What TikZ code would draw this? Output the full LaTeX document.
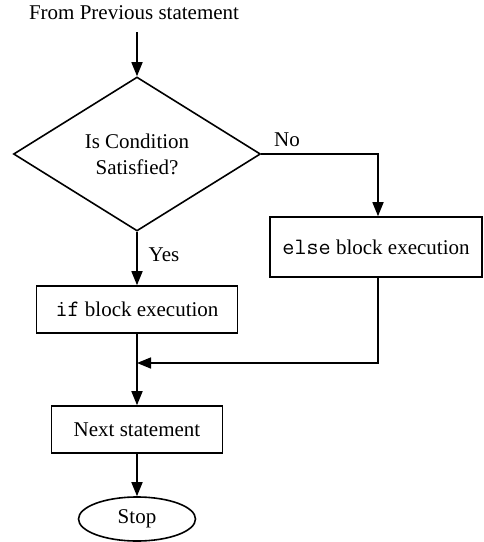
\documentclass[tikz,border=0pt]{standalone}
\usepackage{fontspec}
\setmainfont{Liberation Serif}
\usetikzlibrary{shapes.geometric,arrows.meta}
\newcommand\kwcode[1]{{\fontsize{23.5}{26}\selectfont\texttt{#1}}}
\begin{document}
\begin{tikzpicture}[x=1pt,y=-1pt,
  every node/.style={font=\fontsize{21}{26}\selectfont},
  line/.style={line width=1.6pt},
  arr/.style={line width=1.6pt, -{Triangle[length=14pt,width=11pt]}},
  box/.style={draw, line width=1.6pt, rectangle, inner sep=0pt},
  decision/.style={draw, diamond, aspect=1.6, line width=1.6pt, minimum width=247pt, minimum height=154pt, inner sep=0pt, align=center},
  stopnode/.style={draw, ellipse, line width=1.6pt, minimum width=117pt, minimum height=44pt, inner sep=0pt}]
\useasboundingbox (0,0) rectangle (483,542);
\node (title) at (134,13) {From Previous statement};
\coordinate (start) at (137,32);
\node[decision] (cond) at (137,154) {Is Condition\\Satisfied?};
\node[box, minimum width=212pt, minimum height=60pt] (else) at (376,247) {\kwcode{else} block execution};
\node[box, minimum width=201pt, minimum height=47pt] (if) at (137,309.5) {\kwcode{if} block execution};
\coordinate (merge) at (137,363);
\node[box, minimum width=171pt, minimum height=47pt] (next) at (137,429.5) {Next statement};
\node[stopnode] (stop) at (137,519) {Stop};
\node (no) at (287,140) {No};
\node (yes) at (164,255) {Yes};
\draw[arr] (start) -- (cond.north);
\draw[arr] (cond.east) -| ([xshift=2pt]else.north);
\draw[arr] (cond.south) -- (if.north);
\draw[arr] (if.south) -- (next.north);
\draw[arr] ([xshift=2pt]else.south) |- (merge);
\draw[arr] (next.south) -- (stop.north);
\end{tikzpicture}
\end{document}
